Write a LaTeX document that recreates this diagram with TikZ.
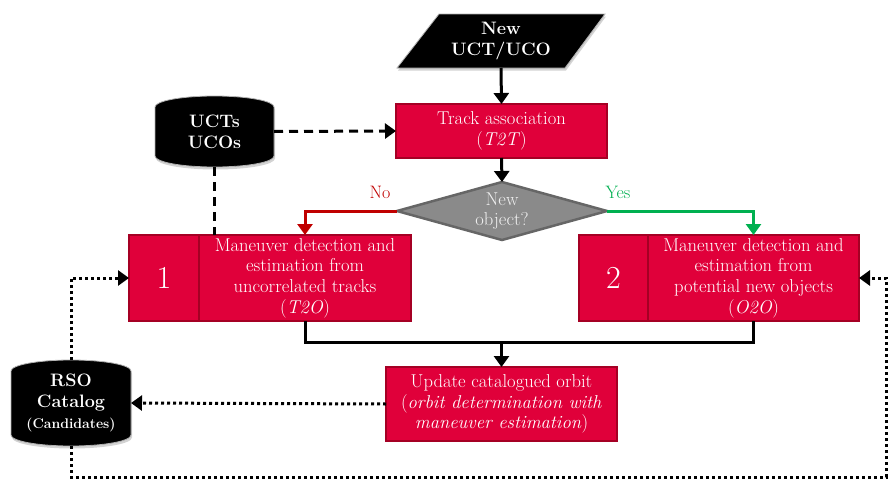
\documentclass[tikz,border=0pt]{standalone}
\usetikzlibrary{arrows.meta,shadows,shapes.geometric,calc}
\definecolor{boxred}{RGB}{224,0,58}
\definecolor{boxborder}{RGB}{165,0,36}
\definecolor{diafill}{RGB}{138,138,138}
\definecolor{diaborder}{RGB}{102,102,102}
\definecolor{nored}{RGB}{192,0,0}
\definecolor{yesgreen}{RGB}{0,176,80}
\tikzset{
  base/.style={font=\fontsize{18.6}{20.7}\selectfont, text=white, align=center, inner sep=0pt, outer sep=0pt},
  redbox/.style={base, draw=boxborder, fill=boxred, line width=2.5pt},
  numbox/.style={redbox, font=\fontsize{32}{36}\selectfont},
  blackshape/.style={fill=black, draw=gray!60, line width=0.8pt, drop shadow={shadow xshift=1pt, shadow yshift=-2.5pt, opacity=0.35}},
  boldtext/.style={base, font=\fontsize{18}{20.7}\selectfont\bfseries},
  flow/.style={line width=3pt, -{Triangle[length=11pt,width=15pt]}},
  dashedflow/.style={flow, dash pattern=on 9pt off 6pt},
  dottedflow/.style={flow, dash pattern=on 3pt off 3pt},
  plainline/.style={line width=3pt},
  decision/.style={diamond, base, text=white!88!gray, draw=diaborder, fill=diafill, line width=2.5pt, aspect=3.6, minimum width=210pt, minimum height=58pt},
  lbl/.style={font=\fontsize{18}{20}\selectfont, inner sep=0pt},
}
\begin{document}
\begin{tikzpicture}[x=1pt,y=1pt]
\useasboundingbox (0,0) rectangle (889,-479);

% New UCT/UCO parallelogram
\path[blackshape] (439,-14) -- (605,-14) -- (565,-68) -- (397,-68) -- cycle;
\node[boldtext, minimum width=120pt, minimum height=54pt] (newuct) at (501,-41) {New\\UCT/UCO};

% Track association
\node[redbox, minimum width=211pt, minimum height=54pt] (track) at (501.5,-131) {Track association\\(\textit{T2T})};

% UCTs UCOs cylinder
\path[blackshape] (155,-107) arc[start angle=180,end angle=0,x radius=59.5,y radius=11] -- (274,-156) arc[start angle=0,end angle=-180,x radius=59.5,y radius=11] -- cycle;
\node[boldtext, minimum width=119pt, minimum height=71pt] (uct) at (214.5,-131.5) {UCTs\\UCOs};

% Decision
\node[decision] (dia) at (502,-211) {New\\object?};
\node[lbl, text=nored] (lblno) at (380,-192) {No};
\node[lbl, text=yesgreen] (lblyes) at (618,-192) {Yes};

% Box 1
\node[numbox, minimum width=70pt, minimum height=86pt] (num1) at (164,-278) {1};
\node[redbox, minimum width=212pt, minimum height=86pt] (t2o) at (305,-278) {Maneuver detection and\\estimation from\\uncorrelated tracks\\(\textit{T2O})};

% Box 2
\node[numbox, minimum width=69pt, minimum height=86pt] (num2) at (613.5,-278) {2};
\node[redbox, minimum width=211pt, minimum height=86pt] (o2o) at (753.5,-278) {Maneuver detection and\\estimation from\\potential new objects\\(\textit{O2O})};

% Update
\node[redbox, minimum width=231pt, minimum height=74pt] (upd) at (501.5,-404) {Update catalogued orbit\\(\textit{orbit determination with}\\\textit{maneuver estimation})};

% RSO catalog cylinder
\path[blackshape] (11,-371) arc[start angle=180,end angle=0,x radius=60,y radius=11] -- (131,-435) arc[start angle=0,end angle=-180,x radius=60,y radius=11] -- cycle;
\node[boldtext, minimum width=120pt, minimum height=86pt] (rso) at (71,-403) {RSO\\Catalog\\{\fontsize{14}{16}\selectfont (Candidates)}};

% Connectors
\draw[flow] (newuct.south) -- (track.north);
\draw[dashedflow] (uct.east) -- (track.west);
\draw[plainline, dash pattern=on 9pt off 6pt] (uct.south) -- (uct.south |- t2o.north);
\draw[flow] (track.south) -- (dia.north);
\draw[flow, nored] (dia.west) -| (t2o.north);
\draw[flow, yesgreen] (dia.east) -| (o2o.north);

\coordinate (join) at (upd.north |- 0,-342);
\draw[plainline, line join=miter] (t2o.south) |- (join) -| (o2o.south);
\draw[flow] (join) -- (upd.north);

\draw[dottedflow] (upd.west) -- (rso.east);
\draw[dottedflow] (rso.north) |- (num1.west);
\coordinate (corner) at (886,-477);
\draw[dottedflow] (rso.south) |- (corner) |- (o2o.east);
\end{tikzpicture}
\end{document}
